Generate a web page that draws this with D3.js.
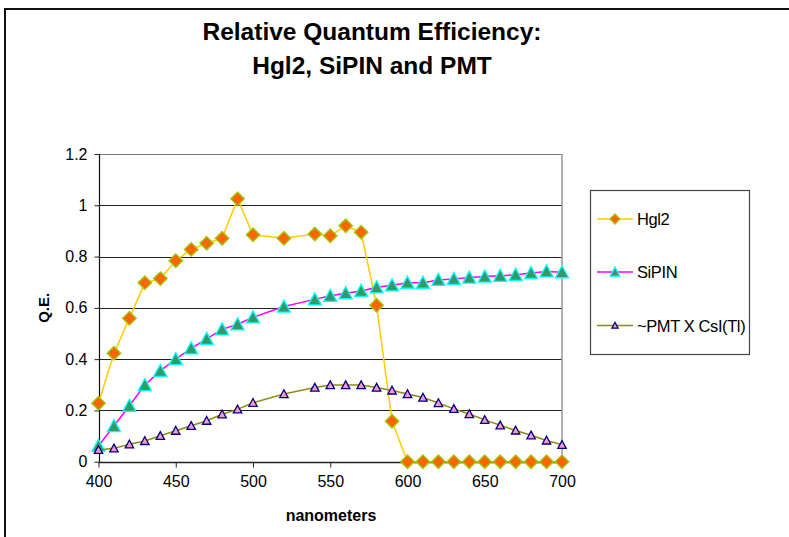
<!DOCTYPE html>
<html>
<head>
<meta charset="utf-8">
<script src="https://cdn.jsdelivr.net/npm/d3@7"></script>
<style>
  html, body { margin: 0; padding: 0; background: #fff; }
  svg { display: block; font-family: "Liberation Sans", Arial, sans-serif; }
</style>
</head>
<body>
<svg id="chart" width="789" height="537"></svg>
<script>
// Wavelengths (nm) sampled for each detector curve
const hgl2Wavelengths = [400, 410, 420, 430, 440, 450, 460, 470, 480, 490, 500, 520, 540, 550, 560, 570, 580, 590,
                         600, 610, 620, 630, 640, 650, 660, 670, 680, 690, 700];
const hgl2Values = [0.228, 0.423, 0.559, 0.698, 0.714, 0.784, 0.828, 0.852, 0.871, 1.025, 0.885, 0.871, 0.888, 0.881, 0.920, 0.895, 0.610, 0.158,
                    0, 0, 0, 0, 0, 0, 0, 0, 0, 0, 0];

const sipinWavelengths = [400, 410, 420, 430, 440, 450, 460, 470, 480, 490, 500, 520, 540, 550, 560, 570, 580, 590,
                          600, 610, 620, 630, 640, 650, 660, 670, 680, 690, 700];
const sipinValues = [0.062, 0.139, 0.218, 0.299, 0.354, 0.400, 0.442, 0.479, 0.516, 0.536, 0.563, 0.605, 0.633, 0.647, 0.657, 0.666, 0.680, 0.688,
                     0.698, 0.698, 0.709, 0.713, 0.718, 0.722, 0.725, 0.729, 0.736, 0.742, 0.739];

const pmtWavelengths = [400, 410, 420, 430, 440, 450, 460, 470, 480, 490, 500, 520, 540, 550, 560, 570, 580, 590,
                        600, 610, 620, 630, 640, 650, 660, 670, 680, 690, 700];
const pmtValues = [0.046, 0.052, 0.068, 0.081, 0.101, 0.121, 0.140, 0.160, 0.185, 0.204, 0.230, 0.264, 0.289, 0.299, 0.299, 0.299, 0.289, 0.278,
                   0.264, 0.250, 0.229, 0.206, 0.186, 0.163, 0.142, 0.122, 0.103, 0.083, 0.066];

const xTicks = [400, 450, 500, 550, 600, 650, 700];
const yTicks = [0, 0.2, 0.4, 0.6, 0.8, 1, 1.2];
const yTickLabels = ["0", "0.2", "0.4", "0.6", "0.8", "1", "1.2"];
const titleLines = ["Relative Quantum Efficiency:", "Hgl2, SiPIN and PMT"];
const legendLabels = ["Hgl2", "SiPIN", "~PMT X CsI(Tl)"];

const svg = d3.select("#chart");

// outer chart frame (continues past the right and bottom edges)
svg.append("path")
  .attr("d", "M5,540 L5,9 L800,9")
  .attr("fill", "none")
  .attr("stroke", "#111")
  .attr("stroke-width", 2);

const plot = { left: 98.5, right: 562, top: 154, bottom: 461.7 };

const x = d3.scaleLinear().domain([400, 700]).range([plot.left, plot.right]);
const y = d3.scaleLinear().domain([0, 1.2]).range([plot.bottom, plot.top]);

// title
svg.append("g").selectAll("text")
  .data(titleLines)
  .join("text")
  .attr("x", 372)
  .attr("y", (d, i) => 40 + i * 34)
  .attr("text-anchor", "middle")
  .attr("font-size", 24.5)
  .attr("font-weight", "bold")
  .attr("fill", "#000")
  .text(d => d);

// horizontal gridlines
svg.append("g").selectAll("line")
  .data(yTicks.slice(1))
  .join("line")
  .attr("x1", plot.left).attr("x2", plot.right)
  .attr("y1", d => Math.round(y(d)) + 0.5).attr("y2", d => Math.round(y(d)) + 0.5)
  .attr("stroke", d => d === 1.2 ? "#777" : "#222")
  .attr("stroke-width", 1);

// right border of the plot area
svg.append("line")
  .attr("x1", plot.right).attr("x2", plot.right)
  .attr("y1", plot.top).attr("y2", plot.bottom)
  .attr("stroke", "#999").attr("stroke-width", 1.5);

// x axis
const xAxis = svg.append("g")
  .attr("transform", `translate(0,${Math.round(plot.bottom) + 0.5})`)
  .call(d3.axisBottom(x).tickValues(xTicks).tickSize(5).tickPadding(8).tickFormat(d3.format("d")));
xAxis.select(".domain").attr("stroke", "#222").attr("stroke-width", 1.5).attr("d", `M${plot.left},0H${plot.right}`);
xAxis.selectAll(".tick line").attr("stroke", "#222");
xAxis.selectAll(".tick text").attr("font-size", 16).attr("font-family", "Liberation Sans, Arial, sans-serif").attr("fill", "#000");

// y axis
const yAxis = svg.append("g")
  .attr("transform", `translate(${Math.round(plot.left) + 0.5},0)`)
  .call(d3.axisLeft(y).tickValues(yTicks).tickSize(5).tickPadding(7).tickFormat((d, i) => yTickLabels[i]));
yAxis.select(".domain").attr("stroke", "#111").attr("stroke-width", 1.2).attr("d", `M0,${plot.top}V${plot.bottom}`);
yAxis.selectAll(".tick line").attr("stroke", "#222");
yAxis.selectAll(".tick text").attr("font-size", 16).attr("font-family", "Liberation Sans, Arial, sans-serif").attr("fill", "#000");

// axis titles
svg.append("text")
  .attr("x", 331).attr("y", 521)
  .attr("text-anchor", "middle")
  .attr("font-size", 16).attr("font-weight", "bold")
  .text("nanometers");

svg.append("text")
  .attr("transform", `translate(49,${(plot.top + plot.bottom) / 2}) rotate(-90)`)
  .attr("text-anchor", "middle")
  .attr("font-size", 15).attr("font-weight", "bold")
  .text("Q.E.");

// series styles
const series = [
  { xs: hgl2Wavelengths, ys: hgl2Values, line: "#FFCC00", fill: "#FF6600", stroke: "#99CC00", shape: "diamond", r: 6.8 },
  { xs: sipinWavelengths, ys: sipinValues, line: "#FF00FF", fill: "#339966", stroke: "#00FFFF", shape: "triangle", r: 6.5 },
  { xs: pmtWavelengths, ys: pmtValues, line: "#8C8C14", fill: "#FF99CC", stroke: "#000080", shape: "triangle", r: 4.2 }
];

function markerPath(shape, r) {
  if (shape === "diamond") return `M0,${-r}L${r},0L0,${r}L${-r},0Z`;
  return `M0,${-r}L${r},${r * 0.85}L${-r},${r * 0.85}Z`;
}

const lineGen = d3.line().x(d => x(d[0])).y(d => y(d[1]));

series.forEach(s => {
  const pts = s.xs.map((w, i) => [w, s.ys[i]]);
  const g = svg.append("g");
  g.append("path")
    .attr("d", lineGen(pts))
    .attr("fill", "none")
    .attr("stroke", s.line)
    .attr("stroke-width", 1.5);
  g.selectAll("path.m")
    .data(pts)
    .join("path")
    .attr("class", "m")
    .attr("transform", d => `translate(${x(d[0])},${y(d[1])})`)
    .attr("d", markerPath(s.shape, s.r))
    .attr("fill", s.fill)
    .attr("stroke", s.stroke)
    .attr("stroke-width", 1.3);
});

// legend
const legend = svg.append("g");
legend.append("rect")
  .attr("x", 590.5).attr("y", 190.5)
  .attr("width", 159).attr("height", 164)
  .attr("fill", "#fff")
  .attr("stroke", "#444").attr("stroke-width", 1.2);

const legendY = [219, 272, 325.5];
series.forEach((s, i) => {
  const row = legend.append("g").attr("transform", `translate(0,${legendY[i]})`);
  row.append("line")
    .attr("x1", 597).attr("x2", 633)
    .attr("stroke", s.line).attr("stroke-width", 1.5);
  row.append("path")
    .attr("transform", "translate(615,0)")
    .attr("d", markerPath(s.shape, s.r * 0.75))
    .attr("fill", s.fill)
    .attr("stroke", s.stroke)
    .attr("stroke-width", 1.2);
  row.append("text")
    .attr("x", 637).attr("y", 6)
    .attr("font-size", 16.5)
    .attr("letter-spacing", -0.4)
    .text(legendLabels[i]);
});
</script>
</body>
</html>
